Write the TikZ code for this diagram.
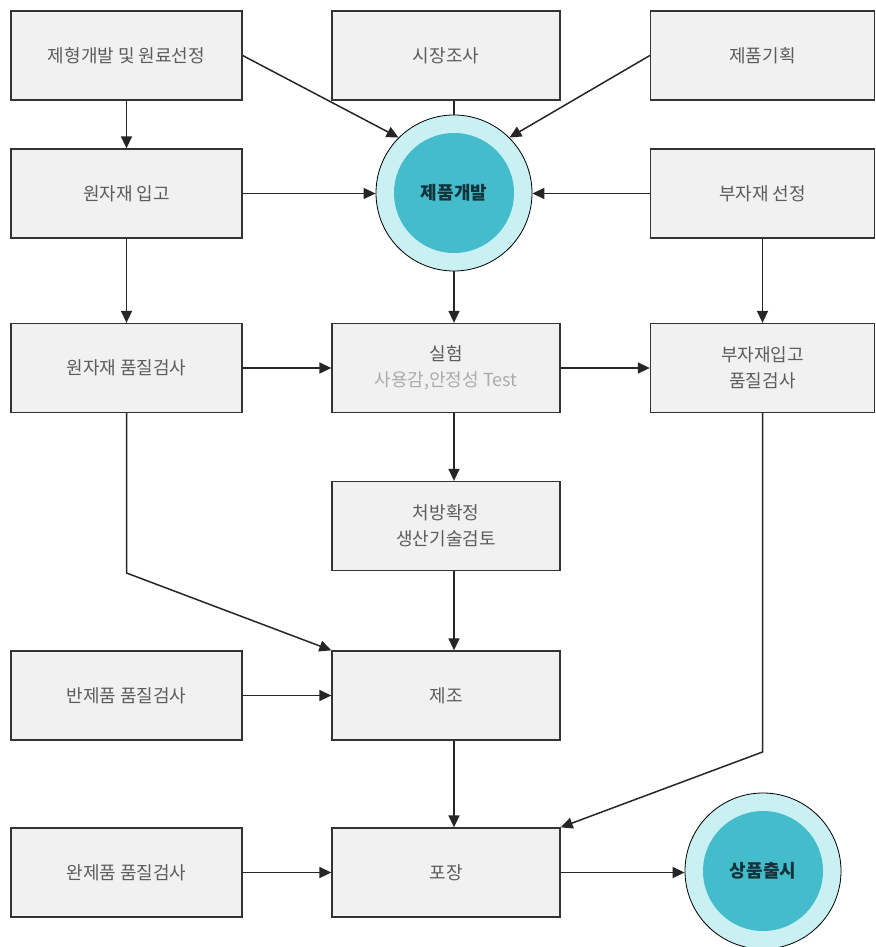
\documentclass[tikz,border=0pt]{standalone}
\usepackage{fontspec}
\setmainfont{Noto Sans CJK KR}
\usetikzlibrary{arrows.meta}
\definecolor{boxfill}{HTML}{F1F1F1}
\definecolor{boxline}{HTML}{333333}
\definecolor{txt}{HTML}{5C5C5C}
\definecolor{lighttxt}{HTML}{ABABAB}
\definecolor{outerc}{HTML}{C9F0F3}
\definecolor{innerc}{HTML}{45BCCB}
\definecolor{circtxt}{HTML}{12333A}
\begin{document}
\begin{tikzpicture}[x=1pt,y=-1pt,
  stepbox/.style={draw=boxline,line width=1.3pt,fill=boxfill,minimum height=89pt,
    inner sep=0pt,align=center,text=txt,font=\fontsize{18}{26}\selectfont},
  lbox/.style={stepbox,minimum width=231pt},
  mbox/.style={stepbox,minimum width=228pt},
  rbox/.style={stepbox,minimum width=224pt},
  outer/.style={circle,draw=black,line width=0.8pt,fill=outerc,minimum size=156pt,inner sep=0pt},
  inner/.style={circle,fill=innerc,minimum size=120pt,inner sep=0pt,text=circtxt,font=\fontsize{18}{20}\selectfont\bfseries},
  arr/.style={line width=1.5pt,draw=black!85,-{Triangle[length=12pt,width=11pt]}},
  ln/.style={line width=1.5pt,draw=black!85}]
\useasboundingbox (0,0) rectangle (875,947);
% boxes
\node[lbox] (a) at (126.5,55.5) {제형개발 및 원료선정};
\node[mbox] (b) at (446,55.5) {시장조사};
\node[rbox] (c) at (762.5,55.5) {제품기획};
\node[lbox] (d) at (126.5,193.5) {원자재 입고};
\node[rbox] (e) at (762.5,193.5) {부자재 선정};
\node[lbox] (f) at (126.5,368) {원자재 품질검사};
\node[mbox] (g) at (446,368) {실험\\{\color{lighttxt}사용감,안정성 Test}};
\node[rbox] (h) at (762.5,368) {부자재입고\\품질검사};
\node[mbox] (i) at (446,526) {처방확정\\생산기술검토};
\node[lbox] (j) at (126.5,695.5) {반제품 품질검사};
\node[mbox] (k) at (446,695.5) {제조};
\node[lbox] (l) at (126.5,872.5) {완제품 품질검사};
\node[mbox] (m) at (446,872.5) {포장};
% circles
\node[outer] (p) at (454,193) {};
\node[inner] (pi) at (454,193) {제품개발};
\node[outer] (q) at (763,871) {};
\node[inner] (qi) at (763,871) {상품출시};
% connectors
\draw[arr] (a.east) -- (p.135);
\draw[ln] (b.south -| p.north) -- (p.north);
\draw[arr] (c.west) -- (p.45);
\draw[arr] (a.south) -- (d.north);
\draw[arr] (d.east) -- (d.east -| p.west);
\draw[arr] (e.west) -- (e.west -| p.east);
\draw[arr] (p.south) -- (g.north -| p.south);
\draw[arr] (d.south) -- (f.north);
\draw[arr] (e.south) -- (h.north);
\draw[arr] (f.east) -- (g.west);
\draw[arr] (g.east) -- (h.west);
\draw[arr] (g.south -| p.south) -- (i.north -| p.south);
\coordinate (f1) at (126.5,573);
\draw[arr] (f.south) -- (f1) -- (k.north west);
\draw[arr] (i.south -| p.south) -- (k.north -| p.south);
\draw[arr] (j.east) -- (k.west);
\draw[arr] (k.south -| p.south) -- (m.north -| p.south);
\coordinate (h1) at (762.5,752);
\draw[arr] (h.south) -- (h1) -- (m.north east);
\draw[arr] (l.east) -- (m.west);
\draw[arr] (m.east) -- (m.east -| q.west);
\end{tikzpicture}
\end{document}
